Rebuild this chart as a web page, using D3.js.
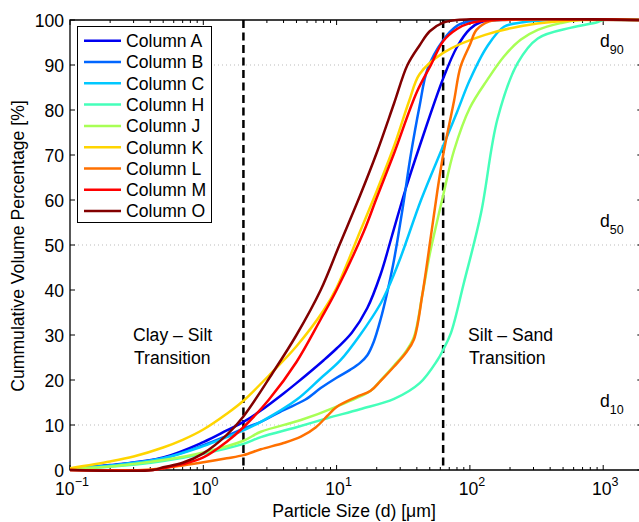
<!DOCTYPE html>
<html>
<head>
<meta charset="utf-8">
<style>
  body { margin: 0; background: #fff; }
  svg { font-family: 'Liberation Sans', Arial, Helvetica, sans-serif; }
</style>
</head>
<body>
<svg width="639" height="522"></svg>
<script src="https://d3js.org/d3.v7.min.js"></script>
<script>
// series: [particle size in um, cumulative %]
const seriesNames = ["Column A", "Column B", "Column C", "Column H", "Column J", "Column K", "Column L", "Column M", "Column O"];
const seriesColors = ["#0000f0", "#0066ff", "#00c8ff", "#45ffba", "#a8ff55", "#ffd500", "#ff7000", "#ff0000", "#820000"];

const colA = [[0.1,0.3],[0.2,1.1],[0.5,2.8],[1,6.2],[1.5,8.8],[2,10.7],[2.7,13.2],[4,17],[5,19.3],[8,24.4],[10,27],[13,30.5],[17,36],[21.4,43.5],[26,52],[33,62.5],[42,72],[63,87],[80,94],[100,98],[120,99.5],[160,100],[2000,100]];
const colB = [[0.1,0.3],[0.2,1],[0.5,2.6],[1,5.5],[1.5,7.6],[2,9.2],[2.7,10.7],[4,13.3],[5.8,15.6],[7.6,18.2],[10,20.5],[12.7,22.3],[15,23.8],[17,25.5],[19,28.5],[21.4,33.5],[24,39.5],[26.5,45.5],[28.6,51],[32,60],[36,70],[42,81],[48,89],[63,95.5],[80,98.7],[100,99.7],[150,100],[2000,100]];
const colC = [[0.1,0.3],[0.2,1],[0.5,2.6],[1,5.3],[1.5,7.3],[2,8.8],[2.7,10.7],[5,15.6],[7.6,20.4],[10.7,24.4],[15,30],[21.4,37],[24,40],[30,47],[43,60],[63,72],[80,79.5],[100,86.7],[134,94],[180,98.5],[250,99.5],[400,100],[2000,100]];
const colH = [[0.1,0.2],[0.2,0.7],[0.5,2],[1,3.6],[2,5.8],[2.7,7.3],[5,9.5],[8.5,11.5],[15,13.5],[27,15.8],[42,19.3],[57,24.4],[63,26.7],[72,30.4],[90,41.5],[121,57],[161,78],[228,90.4],[323,95.9],[576,98.3],[900,99.5],[1000,100],[2000,100]];
const colJ = [[0.1,0.3],[0.2,0.8],[0.5,2.2],[1,3.9],[2,6.5],[2.7,8.5],[5.4,11.1],[10,14.1],[18,17.6],[21.4,19.9],[27,23.2],[33,26.3],[38,29.5],[44,39],[50,48],[57,55.5],[63,61],[76,71],[100,80.5],[135,86.7],[180,91.9],[240,95.6],[323,97.8],[480,99.3],[650,100],[2000,100]];
const colK = [[0.1,0.4],[0.2,1.9],[0.3,3],[0.5,5],[0.7,6.7],[1,9],[1.5,12.5],[2,15.4],[3.3,21.8],[5,27.5],[8,35.5],[10,40.5],[15,53],[20,62],[27,72],[35,82],[42,88],[63,92.7],[130,96.7],[320,99.2],[700,100],[2000,100]];
const colL = [[0.1,0],[0.35,0],[0.5,0.4],[0.7,1],[1,1.7],[1.5,2.6],[2,3.3],[2.7,4.6],[4,6],[5.4,7.4],[7,9.5],[8.5,12],[10,14],[14,16.2],[18,17.6],[21.4,19.8],[27,23],[33,26],[38,29],[44,39],[51,52],[57,62],[63,70],[76,82],[85,89.6],[100,94.5],[112,97.8],[140,99.7],[170,100],[2000,100]];
const colM = [[0.1,0],[0.42,0],[0.5,0.4],[0.7,1.3],[1,2.8],[1.5,6.3],[2,9.5],[3.1,15.6],[5,24],[7.6,33.5],[10,40],[16,53],[20,60.5],[27,70.4],[40,84],[51,90],[63,95.3],[80,98],[100,99.3],[150,100],[2000,100]];
const colO = [[0.1,0],[0.42,0],[0.5,0.6],[0.7,1.6],[1,3.7],[1.5,7.8],[2,11.9],[3.3,21.5],[5,30],[7.6,40],[10.5,50],[15,61],[20,70.5],[27,81.5],[34,90],[42,94.4],[50,97.5],[63,99.4],[80,100],[2000,100]];
const seriesData = [colA, colB, colC, colH, colJ, colK, colL, colM, colO];

const yTicks = [0, 10, 20, 30, 40, 50, 60, 70, 80, 90, 100];
const xDecades = [0.1, 1, 10, 100, 1000];
const xExponents = ["\u22121", "0", "1", "2", "3"];
const gridLevels = [10, 50, 90];
const gridLabels = ["90", "50", "10"];
const transitions = [2, 63];

const svg = d3.select("svg");
const mLeft = 70, mTop = 20, mBottom = 470;

let x = d3.scaleLog().domain([0.1, 2000]).range([mLeft, mLeft + 133.3 * Math.log10(20000)]);
let y = d3.scaleLinear().domain([0, 100]).range([mBottom, mTop]);
const mRight = x.range()[1];

svg.append("clipPath").attr("id", "plot")
  .append("rect")
  .attr("x", mLeft).attr("y", mTop - 2)
  .attr("width", mRight - mLeft).attr("height", mBottom - mTop + 4);

// minor ticks
let minor = [];
for (let e = -1; e <= 3; e++) {
  for (let k = 2; k <= 9; k++) {
    let v = k * Math.pow(10, e);
    if (v <= 2000) minor.push(v);
  }
}

// dotted grid at d10/d50/d90
svg.selectAll(".grid")
  .data(gridLevels)
  .join("line")
  .attr("x1", mLeft).attr("x2", mRight)
  .attr("y1", d => y(d)).attr("y2", d => y(d))
  .style("stroke", "#bbb")
  .style("stroke-width", 1)
  .style("stroke-dasharray", "1,3");

// transitions
svg.selectAll(".trans")
  .data(transitions)
  .join("line")
  .attr("x1", d => x(d)).attr("x2", d => x(d))
  .attr("y1", mTop).attr("y2", mBottom)
  .style("stroke", "#000")
  .style("stroke-width", 2.5)
  .style("stroke-dasharray", "8,4.5");

// axes box + ticks
let axes = svg.append("g");
axes.append("path")
  .attr("d", `M${mRight},${mTop}H${mLeft}V${mBottom}H${mRight}`)
  .style("fill", "none").style("stroke", "#000").style("stroke-width", 1.3);

axes.selectAll(".xmaj")
  .data(xDecades)
  .join("path")
  .attr("d", d => `M${x(d)},${mBottom}v-5M${x(d)},${mTop}v5`)
  .style("stroke", "#000").style("stroke-width", 1);
axes.selectAll(".xmin")
  .data(minor)
  .join("path")
  .attr("d", d => `M${x(d)},${mBottom}v-3M${x(d)},${mTop}v3`)
  .style("stroke", "#000").style("stroke-width", 1);
axes.selectAll(".ytick")
  .data(yTicks)
  .join("path")
  .attr("d", d => `M${mLeft},${y(d)}h5M${mRight},${y(d)}h-6`)
  .style("stroke", "#000").style("stroke-width", 1);

axes.selectAll(".ylab")
  .data(yTicks)
  .join("text")
  .attr("x", 64)
  .attr("y", d => y(d) + 6.5)
  .attr("text-anchor", "end")
  .style("font-size", "17.6px")
  .text(d => d);

let xl = axes.selectAll(".xlab")
  .data(xDecades)
  .join("text")
  .attr("x", (d, i) => x(d) + 2)
  .attr("y", 495)
  .attr("text-anchor", "middle")
  .style("font-size", "17.6px");
xl.append("tspan").text("10");
xl.append("tspan").attr("dy", -9).style("font-size", "12.5px").text((d, i) => xExponents[i]);

svg.append("text")
  .attr("x", 354).attr("y", 517)
  .attr("text-anchor", "middle")
  .style("font-size", "17.6px")
  .text("Particle Size (d) [\u03bcm]");

svg.append("text")
  .attr("transform", "translate(24,246) rotate(-90)")
  .attr("text-anchor", "middle")
  .style("font-size", "17.6px")
  .text("Cummulative Volume Percentage [%]");

// annotations
let ann = svg.append("g").style("font-size", "17.6px");
ann.append("text").attr("x", 133).attr("y", 341).text("Clay \u2013 Silt");
ann.append("text").attr("x", 134).attr("y", 364).text("Transition");
ann.append("text").attr("x", 468).attr("y", 341).text("Silt \u2013 Sand");
ann.append("text").attr("x", 469).attr("y", 364).text("Transition");

let dl = svg.selectAll(".dlab")
  .data([90, 50, 10])
  .join("text")
  .attr("x", 600)
  .attr("y", d => y(d) - 18)
  .style("font-size", "17.6px");
dl.append("tspan").text("d");
dl.append("tspan").attr("dy", 7).style("font-size", "12.5px").text((d, i) => gridLabels[i]);

// curves
let line = d3.line()
  .x(d => x(d[0]))
  .y(d => y(d[1]))
  .curve(d3.curveCatmullRom.alpha(0.5));

svg.append("g")
  .attr("clip-path", "url(#plot)")
  .selectAll(".curve")
  .data(seriesData)
  .join("path")
  .attr("d", line)
  .style("fill", "none")
  .style("stroke", (d, i) => seriesColors[i])
  .style("stroke-width", 2.5)
  .style("stroke-linejoin", "round");

// legend
let lg = svg.append("g");
lg.append("rect")
  .attr("x", 77.5).attr("y", 26.5).attr("width", 134).attr("height", 196)
  .style("fill", "#fff").style("stroke", "#000").style("stroke-width", 1);
let items = lg.selectAll(".item")
  .data(seriesNames)
  .join("g")
  .attr("transform", (d, i) => `translate(0,${40.7 + i * 21.3})`);
items.append("line")
  .attr("x1", 84).attr("x2", 121)
  .style("stroke", (d, i) => seriesColors[i])
  .style("stroke-width", 2.5);
items.append("text")
  .attr("x", 126).attr("y", 6.3)
  .style("font-size", "17.6px")
  .text(d => d);
</script>
</body>
</html>
